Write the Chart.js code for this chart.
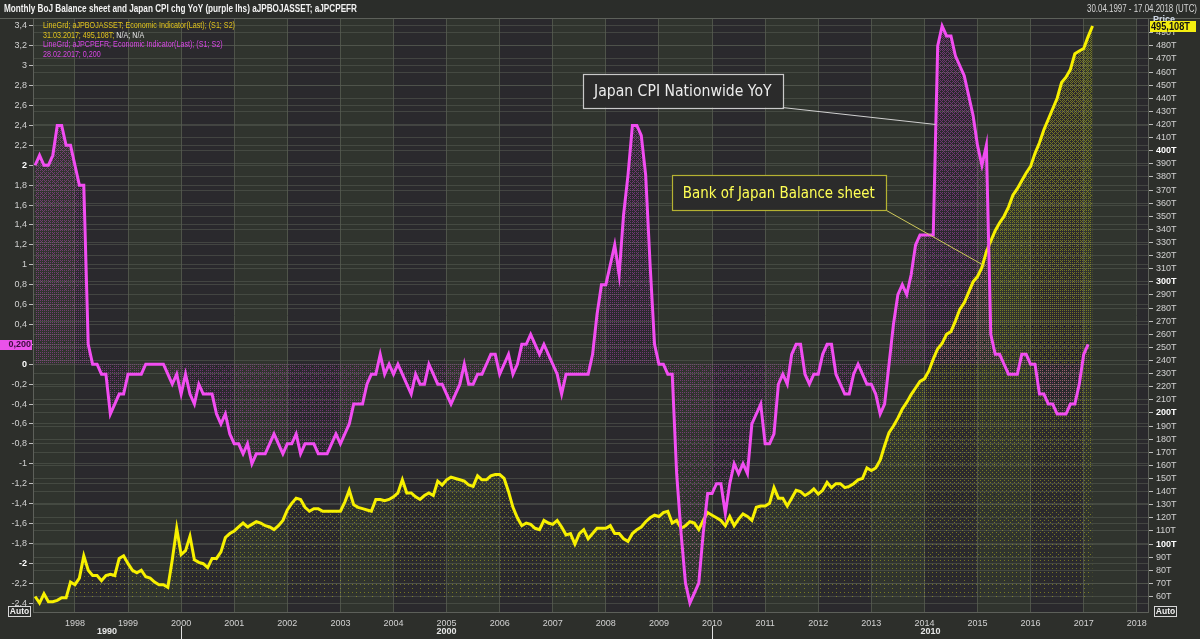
<!DOCTYPE html>
<html>
<head>
<meta charset="utf-8">
<script src="https://cdn.jsdelivr.net/npm/chart.js@4.4.1/dist/chart.umd.min.js"></script>
<style>
html,body{margin:0;padding:0;background:#2d2f2b;overflow:hidden}
#wrap{position:relative;width:1200px;height:639px}
canvas{display:block}
</style>
</head>
<body>
<div id="wrap"><canvas id="c" width="1200" height="639"></canvas></div>
<script>
// ---------------- DATA ----------------
const startYear = 1997, startMonth = 4;      // first monthly observation: April 1997

// Japan CPI ex fresh food, % YoY (left axis)
const cpi1997to2001 = [
  2.0, 2.1, 2.0, 2.0, 2.1, 2.4, 2.4, 2.2, 2.2,
  2.0, 1.8, 1.8, 0.2, 0.0, 0.0, -0.1, -0.1, -0.5, -0.4, -0.3, -0.3,
  -0.1, -0.1, -0.1, -0.1, 0.0, 0.0, 0.0, 0.0, 0.0, -0.1, -0.2, -0.1,
  -0.3, -0.1, -0.3, -0.4, -0.2, -0.3, -0.3, -0.3, -0.5, -0.6, -0.5, -0.7,
  -0.8, -0.8, -0.9, -0.8, -1.0, -0.9, -0.9, -0.9, -0.8, -0.7, -0.8, -0.9
];
const cpi2002to2006 = [
  -0.8, -0.8, -0.7, -0.9, -0.8, -0.8, -0.8, -0.9, -0.9, -0.9, -0.8, -0.7,
  -0.8, -0.7, -0.6, -0.4, -0.4, -0.4, -0.2, -0.1, -0.1, 0.1, -0.1, 0.0,
  -0.1, 0.0, -0.1, -0.2, -0.3, -0.1, -0.2, -0.2, 0.0, -0.1, -0.2, -0.2,
  -0.3, -0.4, -0.3, -0.2, 0.0, -0.2, -0.2, -0.1, -0.1, 0.0, 0.1, 0.1,
  -0.1, 0.0, 0.1, -0.1, 0.0, 0.2, 0.2, 0.3, 0.2, 0.1, 0.2, 0.1
];
const cpi2007to2011 = [
  0.0, -0.1, -0.3, -0.1, -0.1, -0.1, -0.1, -0.1, -0.1, 0.1, 0.5, 0.8,
  0.8, 1.0, 1.2, 0.9, 1.5, 1.9, 2.4, 2.4, 2.3, 1.9, 1.0, 0.2,
  0.0, 0.0, -0.1, -0.1, -1.1, -1.7, -2.2, -2.4, -2.3, -2.2, -1.7, -1.3,
  -1.3, -1.2, -1.2, -1.5, -1.2, -1.0, -1.1, -1.0, -1.1, -0.6, -0.5, -0.4,
  -0.8, -0.8, -0.7, -0.2, -0.1, -0.2, 0.1, 0.2, 0.2, -0.1, -0.2, -0.1
];
const cpi2012to2017 = [
  -0.1, 0.1, 0.2, 0.2, -0.1, -0.2, -0.3, -0.3, -0.1, 0.0, -0.1, -0.2,
  -0.2, -0.3, -0.5, -0.4, 0.0, 0.4, 0.7, 0.8, 0.7, 0.9, 1.2, 1.3,
  1.3, 1.3, 1.3, 3.2, 3.4, 3.3, 3.3, 3.1, 3.0, 2.9, 2.7, 2.5,
  2.2, 2.0, 2.2, 0.3, 0.1, 0.1, 0.0, -0.1, -0.1, -0.1, 0.1, 0.1,
  0.0, 0.0, -0.3, -0.3, -0.4, -0.4, -0.5, -0.5, -0.5, -0.4, -0.4, -0.2,
  0.1, 0.2
];

// Bank of Japan total assets, trillion yen (right axis)
const boj1997to2001 = [
  60, 55, 62, 56, 56, 57, 59, 59, 71,
  69, 74, 91, 80, 76, 76, 72, 76, 77, 76, 89, 91,
  85, 80, 78, 80, 75, 74, 71, 69, 69, 67, 88, 112,
  92, 95, 106, 88, 86, 85, 82, 89, 89, 94, 105, 108,
  110, 113, 116, 113, 115, 117, 116, 114, 113, 111, 114, 118
];
const boj2002to2006 = [
  126, 131, 135, 134, 128, 125, 127, 127, 125, 125, 125, 125,
  125, 132, 141, 130, 128, 127, 126, 125, 134, 134, 133, 134,
  136, 139, 149, 139, 139, 136, 134, 137, 139, 137, 148, 145,
  149, 151, 150, 149, 148, 145, 144, 152, 149, 149, 152, 153,
  153, 150, 140, 128, 120, 114, 116, 115, 112, 111, 118, 116
];
const boj2007to2011 = [
  115, 118, 113, 107, 108, 100, 108, 111, 104, 108, 112, 112,
  112, 114, 108, 108, 104, 102, 108, 111, 113, 117, 120, 122,
  121, 124, 125, 116, 118, 112, 114, 117, 116, 111, 118, 124,
  122, 120, 118, 114, 121, 114, 119, 123, 121, 118, 128, 129,
  129, 131, 143, 135, 135, 129, 135, 141, 140, 137, 139, 142
];
const boj2012to2017 = [
  138, 141, 147, 143, 146, 146, 143, 144, 146, 149, 150, 158,
  156, 158, 164, 175, 185, 190, 196, 203, 208, 214, 219, 224,
  226, 232, 241, 249, 253, 260, 262, 270, 279, 284, 292, 300,
  304, 311, 323, 331, 339, 345, 350, 357, 366, 371, 377, 383,
  388, 398, 406, 416, 424, 432, 440, 452, 456, 462, 474, 476,
  478, 487, 495.108
];

const cpiValues = [].concat(cpi1997to2001, cpi2002to2006, cpi2007to2011, cpi2012to2017);
const bojValues = [].concat(boj1997to2001, boj2002to2006, boj2007to2011, boj2012to2017);

// ticks / labels
const yearTicks = [1998,1999,2000,2001,2002,2003,2004,2005,2006,2007,2008,2009,2010,2011,2012,2013,2014,2015,2016,2017,2018];
const decadeLabels = ['1990', '2000', '2010'];
const decadeBreaks = [2000, 2010];
const cpiTicks = [-2.4,-2.2,-2,-1.8,-1.6,-1.4,-1.2,-1,-0.8,-0.6,-0.4,-0.2,0,0.2,0.4,0.6,0.8,1,1.2,1.4,1.6,1.8,2,2.2,2.4,2.6,2.8,3,3.2,3.4];
const bojTicks = [60,70,80,90,100,110,120,130,140,150,160,170,180,190,200,210,220,230,240,250,260,270,280,290,300,310,320,330,340,350,360,370,380,390,400,410,420,430,440,450,460,470,480,490];

const titleText = 'Monthly BoJ Balance sheet and Japan CPI chg YoY (purple lhs) aJPBOJASSET; aJPCPEFR';
const rangeText = '30.04.1997 - 17.04.2018 (UTC)';
const legendLines = [
  [['LineGrd; aJPBOJASSET; Economic Indicator(Last); (S1; S2)','#e2c41c']],
  [['31.03.2017; 495,108T; ','#e2c41c'],['N/A; N/A','#e8e8e8']],
  [['LineGrd; aJPCPEFR; Economic Indicator(Last); (S1; S2)','#d846e6']],
  [['28.02.2017; 0,200','#d846e6']]
];
const lastCpiLabel = '0,200';
const lastBojLabel = '495,108T';

// annotation boxes (data units: x = year, y = CPI %)
const notes = [
  {text:'Japan CPI Nationwide YoY', x0:2007.57, x1:2011.33, yTop:2.92, yBot:2.58, tipX:2014.21, tipY:2.41,
   textColor:'#ececec', border:'#c9c9c9', lead:'#d0d0d0'},
  {text:'Bank of Japan Balance sheet', x0:2009.24, x1:2013.27, yTop:1.90, yBot:1.55, tipX:2015.13, tipY:0.99,
   textColor:'#ffff55', border:'#b5b232', lead:'#cfc95a'}
];

// axis ranges
const xMin = 1997.21, xMax = 2018.23;
const cpiMin = -2.5, cpiMax = 3.48;
const bojMin = 47.4, bojMax = 501.2;

// ---------------- BUILD ----------------
const monthX = i => startYear + (startMonth - 1 + i) / 12;
const cpiPts = cpiValues.map((v, i) => ({x: monthX(i), y: v}));
const bojPts = bojValues.map((v, i) => ({x: monthX(i), y: v}));

const canvas = document.getElementById('c');
const ctx = canvas.getContext('2d');

const BAYER = [0,32,8,40,2,34,10,42,48,16,56,24,50,18,58,26,12,44,4,36,14,46,6,38,60,28,52,20,62,30,54,22,
               3,35,11,43,1,33,9,41,51,19,59,27,49,17,57,25,15,47,7,39,13,45,5,37,63,31,55,23,61,29,53,21];
function ditherPattern(r, g, b, a, dens) {
  const W = 1200, H = 639;
  const off = document.createElement('canvas');
  off.width = W; off.height = H;
  const o = off.getContext('2d');
  const img = o.createImageData(W, H);
  const d = img.data;
  for (let y = 0; y < H; y++) {
    const t = Math.max(0, Math.min(1, dens(y))) * 64;
    for (let x = 0; x < W; x++) {
      if (BAYER[(y & 7) * 8 + (x & 7)] < t) {
        const k = (y * W + x) * 4;
        d[k] = r; d[k+1] = g; d[k+2] = b; d[k+3] = a;
      }
    }
  }
  o.putImageData(img, 0, 0);
  return ctx.createPattern(off, 'no-repeat');
}
const purpleFill = ditherPattern(190, 70, 190, 120, y => 0.07 + 0.36 * (600 - y) / 575);
const yellowFill = ditherPattern(205, 205, 25, 115, y => 0.03 + 0.42 * (600 - y) / 575);

const FONT = '"Liberation Sans", Arial, sans-serif';

// draw text squeezed horizontally to a given width (keeps it as real text)
function squeezeText(c, text, x, y, font, scale, align) {
  c.save();
  c.font = font;
  c.translate(x, y);
  c.scale(scale, 1);
  c.textAlign = align || 'left';
  c.fillText(text, 0, 0);
  const w = c.measureText(text).width * scale;
  c.restore();
  return w;
}
function scaleFor(c, text, font, targetW) {
  c.font = font;
  return Math.min(1, targetW / c.measureText(text).width);
}

const isMult = (v, m) => typeof v === 'number' && Math.abs(v / m - Math.round(v / m)) < 1e-6;
const tickVal = c => (c && c.tick) ? c.tick.value : NaN;
const fmtCpi = v => isMult(v, 1) ? String(Math.round(v)) : v.toFixed(1).replace('.', ',');

const decor = {
  id: 'decor',
  beforeDraw(chart) {
    const c = chart.ctx, a = chart.chartArea, x = chart.scales.x;
    c.save();
    c.fillStyle = '#2d2f2b';
    c.fillRect(0, 0, chart.width, chart.height);
    c.fillStyle = '#2b2d2a';
    c.fillRect(0, 0, chart.width, a.top);
    for (let yr = Math.floor(x.min); yr < x.max; yr++) {
      const l = Math.max(a.left, x.getPixelForValue(yr));
      const r = Math.min(a.right, x.getPixelForValue(yr + 1));
      if (r <= l) continue;
      c.fillStyle = (yr % 2) ? '#30342e' : '#2a292d';
      c.fillRect(l, a.top, r - l, a.bottom - a.top);
    }
    c.restore();
  },
  afterDraw(chart) {
    const c = chart.ctx, a = chart.chartArea;
    const x = chart.scales.x, y = chart.scales.y, y1 = chart.scales.y1;
    c.save();
    // plot frame
    c.strokeStyle = '#5d605a'; c.lineWidth = 1;
    c.strokeRect(a.left + 0.5, a.top + 0.5, a.right - a.left - 1, a.bottom - a.top - 1);
    c.beginPath(); c.moveTo(0, a.top + 0.5); c.lineTo(chart.width, a.top + 0.5); c.stroke();

    // title and date range
    c.textBaseline = 'middle';
    c.fillStyle = '#f2f2f2';
    const tf = 'bold 10.5px ' + FONT;
    squeezeText(c, titleText, 4, 9, tf, scaleFor(c, titleText, tf, 353), 'left');
    c.fillStyle = '#d6d6d6';
    const rf = '10px ' + FONT;
    squeezeText(c, rangeText, 1197, 9, rf, scaleFor(c, rangeText, rf, 110), 'right');

    // legend lines
    const lf = '9.5px ' + FONT;
    const ls = scaleFor(c, legendLines[0][0][0], lf, 192);
    const ly = [25, 35, 44.5, 54];
    legendLines.forEach((ln, k) => {
      let px = 43;
      ln.forEach(([t, col]) => {
        c.fillStyle = col;
        px += squeezeText(c, t, px, ly[k], lf, ls, 'left');
      });
    });

    // annotation boxes with leader lines
    notes.forEach(n => {
      const l = x.getPixelForValue(n.x0), r = x.getPixelForValue(n.x1);
      const t = y.getPixelForValue(n.yTop), b = y.getPixelForValue(n.yBot);
      const tx = x.getPixelForValue(n.tipX), ty = y.getPixelForValue(n.tipY);
      c.strokeStyle = n.lead; c.lineWidth = 1;
      c.beginPath(); c.moveTo(r, b); c.lineTo(tx, ty); c.stroke();
      c.fillStyle = '#2b2b2b';
      c.fillRect(l, t, r - l, b - t);
      c.strokeStyle = n.border; c.lineWidth = 1.2;
      c.strokeRect(Math.round(l) + 0.5, Math.round(t) + 0.5, Math.round(r - l), Math.round(b - t));
      c.fillStyle = n.textColor;
      const af = '15px "DejaVu Sans", Verdana, sans-serif';
      squeezeText(c, n.text, (l + r) / 2, (t + b) / 2 + 1, af, scaleFor(c, n.text, af, r - l - 22), 'center');
    });

    // "Price" header on right axis
    c.font = 'bold 9px ' + FONT; c.fillStyle = '#cfd8e6'; c.textAlign = 'left';
    c.fillText('Price', 1153, 20);

    // last-value badges
    const cy = Math.round(y.getPixelForValue(cpiValues[cpiValues.length - 1]));
    c.fillStyle = '#ea52ea';
    c.fillRect(0, cy - 4, 32, 10);
    c.fillStyle = '#3c0d3c'; c.font = 'bold 9px ' + FONT; c.textAlign = 'right';
    c.fillText(lastCpiLabel, 31, cy + 1);
    const by = Math.round(y1.getPixelForValue(bojValues[bojValues.length - 1]));
    c.fillStyle = '#f4ee10';
    c.fillRect(1150, by - 5, 46, 11);
    c.fillStyle = '#111'; c.textAlign = 'left';
    squeezeText(c, lastBojLabel, 1151, by + 1, 'bold 10px ' + FONT, 0.92, 'left');

    // Auto boxes
    c.font = 'bold 8.5px ' + FONT;
    [[8, 606], [1154, 606]].forEach(([bx, byy]) => {
      c.fillStyle = '#2b2d2a'; c.fillRect(bx, byy, 23, 11);
      c.strokeStyle = '#d8d8d8'; c.lineWidth = 1;
      c.strokeRect(bx + 0.5, byy + 0.5, 22, 10);
      c.fillStyle = '#f0f0f0'; c.textAlign = 'center';
      c.fillText('Auto', bx + 11.5, byy + 6);
    });

    // decade row
    const edges = [a.left].concat(decadeBreaks.map(v => x.getPixelForValue(v)), [a.right]);
    c.font = 'bold 9px ' + FONT; c.fillStyle = '#e6e6e6'; c.textAlign = 'center';
    decadeLabels.forEach((t, k) => c.fillText(t, (edges[k] + edges[k + 1]) / 2, 632));
    c.strokeStyle = '#e0e0e0'; c.lineWidth = 1;
    decadeBreaks.forEach(v => {
      const px = Math.round(x.getPixelForValue(v)) + 0.5;
      c.beginPath(); c.moveTo(px, 626); c.lineTo(px, 639); c.stroke();
    });
    c.restore();
  }
};

new Chart(ctx, {
  type: 'line',
  data: {
    datasets: [
      {label: 'BoJ balance sheet', data: bojPts, yAxisID: 'y1', borderColor: '#f7f000', borderWidth: 3,
       pointRadius: 0, tension: 0, fill: {value: 58}, backgroundColor: yellowFill, order: 2},
      {label: 'Japan CPI YoY', data: cpiPts, yAxisID: 'y', borderColor: '#f24df2', borderWidth: 3,
       pointRadius: 0, tension: 0, fill: {value: 0}, backgroundColor: purpleFill, order: 1}
    ]
  },
  options: {
    responsive: false, animation: false, devicePixelRatio: 1,
    layout: {padding: {top: 18, left: 0, right: 0, bottom: 0}},
    plugins: {legend: {display: false}, tooltip: {enabled: false}, title: {display: false},
              filler: {drawTime: 'beforeDatasetsDraw'}},
    scales: {
      x: {
        type: 'linear', min: xMin, max: xMax,
        afterBuildTicks: s => { s.ticks = yearTicks.map(v => ({value: v})); },
        afterFit: s => { s.height = 26; },
        border: {display: false},
        grid: {color: '#4e5349', lineWidth: 1, drawTicks: false},
        ticks: {color: '#d2d2d2', font: {size: 9, family: FONT}, padding: 5, maxRotation: 0, autoSkip: false,
                callback: v => String(v)}
      },
      y: {
        position: 'left', min: cpiMin, max: cpiMax,
        afterBuildTicks: s => { s.ticks = cpiTicks.map(v => ({value: v})); },
        afterFit: s => { s.width = 33; },
        border: {display: false},
        grid: {color: 'rgba(88,92,84,0.55)', lineWidth: 1, tickLength: 4, tickColor: '#bdbdbd'},
        ticks: {padding: 2, autoSkip: false,
                color: c => isMult(tickVal(c), 2) ? '#ffffff' : '#d2d2d2',
                font: c => ({size: 9, family: FONT, weight: isMult(tickVal(c), 2) ? 'bold' : 'normal'}),
                callback: v => fmtCpi(v)}
      },
      y1: {
        position: 'right', min: bojMin, max: bojMax,
        afterBuildTicks: s => { s.ticks = bojTicks.map(v => ({value: v})); },
        afterFit: s => { s.width = 51; },
        border: {display: false},
        grid: {color: 'rgba(88,92,84,0.55)', lineWidth: 1, tickLength: 4, tickColor: '#bdbdbd'},
        ticks: {padding: 3, autoSkip: false,
                color: c => isMult(tickVal(c), 100) ? '#ffffff' : '#d2d2d2',
                font: c => ({size: 9, family: FONT, weight: isMult(tickVal(c), 100) ? 'bold' : 'normal'}),
                callback: v => v + 'T'}
      }
    }
  },
  plugins: [decor]
});
</script>
</body>
</html>
